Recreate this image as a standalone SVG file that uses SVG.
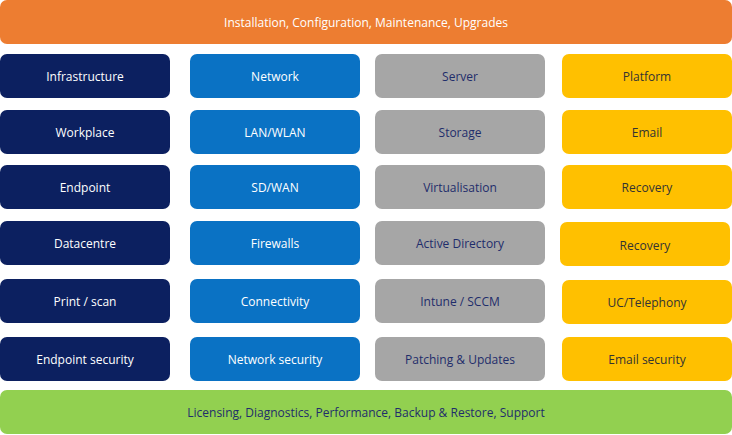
<svg xmlns="http://www.w3.org/2000/svg" width="732" height="435" viewBox="0 0 732 435">
<style>
text{font-family:"Open Sans","Liberation Sans",sans-serif;font-size:12px;text-anchor:middle;dominant-baseline:central}
.n rect{fill:#0c2060}.n text{fill:#fff}
.b rect{fill:#0a72c4}.b text{fill:#fff}
.g rect{fill:#a6a6a6}.g text{fill:#1f2d6b}
.y rect{fill:#ffc000}.y text{fill:#333}
</style>
<g id="top"><rect x="0" y="0" width="732" height="44" rx="7" fill="#ed7d31"/><text x="366" y="22" fill="#fff">Installation, Configuration, Maintenance, Upgrades</text></g>
<g id="c1" class="n">
<g id="n1"><rect x="0" y="54" width="170" height="44" rx="7"/><text x="85" y="76">Infrastructure</text></g>
<g id="n2"><rect x="0" y="110" width="170" height="44" rx="7"/><text x="85" y="132">Workplace</text></g>
<g id="n3"><rect x="0" y="165" width="170" height="44" rx="7"/><text x="85" y="187">Endpoint</text></g>
<g id="n4"><rect x="0" y="221" width="170" height="44" rx="7"/><text x="85" y="243">Datacentre</text></g>
<g id="n5"><rect x="0" y="279" width="170" height="44" rx="7"/><text x="85" y="301">Print / scan</text></g>
<g id="n6"><rect x="0" y="337" width="170" height="44" rx="7"/><text x="85" y="359">Endpoint  security</text></g>
</g>
<g id="c2" class="b">
<g id="b1"><rect x="190" y="54" width="170" height="44" rx="7"/><text x="275" y="76">Network</text></g>
<g id="b2"><rect x="190" y="110" width="170" height="44" rx="7"/><text x="275" y="132">LAN/WLAN</text></g>
<g id="b3"><rect x="190" y="165" width="170" height="44" rx="7"/><text x="275" y="187">SD/WAN</text></g>
<g id="b4"><rect x="190" y="221" width="170" height="44" rx="7"/><text x="275" y="243">Firewalls</text></g>
<g id="b5"><rect x="190" y="279" width="170" height="44" rx="7"/><text x="275" y="301">Connectivity</text></g>
<g id="b6"><rect x="190" y="337" width="170" height="44" rx="7"/><text x="275" y="359">Network security</text></g>
</g>
<g id="c3" class="g">
<g id="g1"><rect x="375" y="54" width="170" height="44" rx="7"/><text x="460" y="76">Server</text></g>
<g id="g2"><rect x="375" y="110" width="170" height="44" rx="7"/><text x="460" y="132">Storage</text></g>
<g id="g3"><rect x="375" y="165" width="170" height="44" rx="7"/><text x="460" y="187">Virtualisation</text></g>
<g id="g4"><rect x="375" y="221" width="170" height="44" rx="7"/><text x="460" y="243">Active Directory</text></g>
<g id="g5"><rect x="375" y="279" width="170" height="44" rx="7"/><text x="460" y="301">Intune / SCCM</text></g>
<g id="g6"><rect x="375" y="337" width="170" height="44" rx="7"/><text x="460" y="359">Patching &amp; Updates</text></g>
</g>
<g id="c4" class="y">
<g id="y1"><rect x="562" y="54" width="170" height="44" rx="7"/><text x="647" y="76">Platform</text></g>
<g id="y2"><rect x="562" y="110" width="170" height="44" rx="7"/><text x="647" y="132">Email</text></g>
<g id="y3"><rect x="562" y="165" width="170" height="44" rx="7"/><text x="647" y="187">Recovery</text></g>
<g id="y4"><rect x="560" y="222" width="170" height="44" rx="7"/><text x="645" y="245">Recovery</text></g>
<g id="y5"><rect x="562" y="280" width="170" height="44" rx="7"/><text x="647" y="302">UC/Telephony</text></g>
<g id="y6"><rect x="562" y="337" width="170" height="44" rx="7"/><text x="647" y="359">Email security</text></g>
</g>
<g id="bottom"><rect x="0" y="390" width="732" height="44" rx="7" fill="#92d050"/><text x="366" y="412" fill="#1f2d6b">Licensing,  Diagnostics,  Performance,  Backup &amp; Restore,  Support</text></g>
<g id="connectors"/>
</svg>
